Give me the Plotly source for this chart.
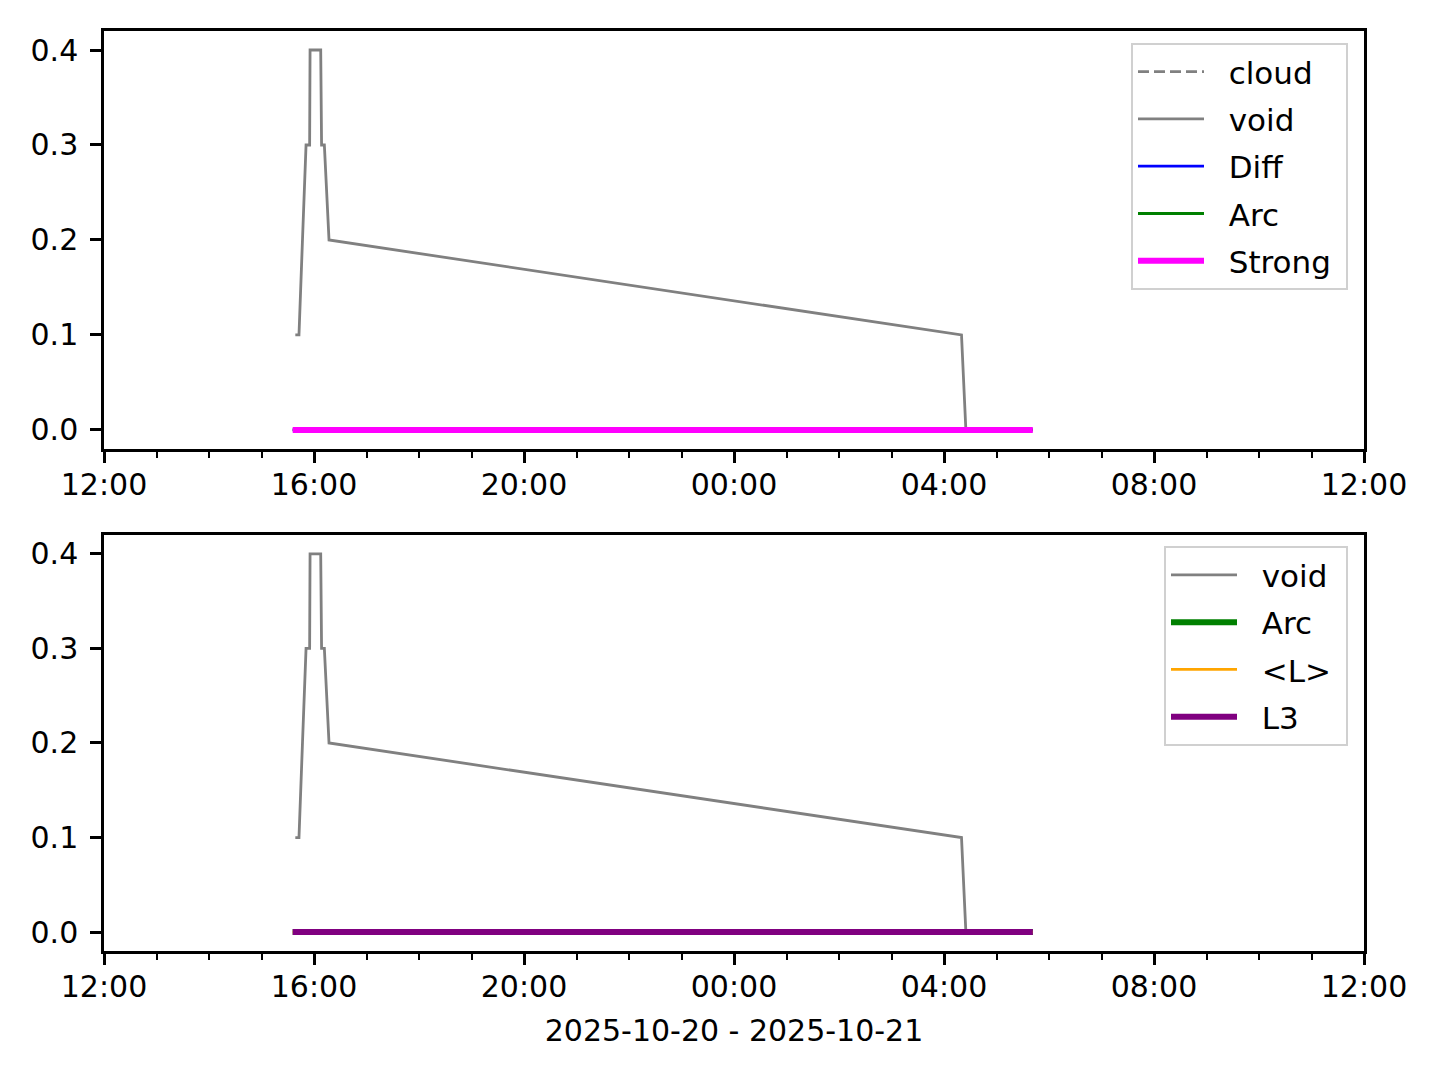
import plotly.graph_objects as go

# ---- data ----
void_times = [
    "2025-10-20 15:38:40", "2025-10-20 15:42:50", "2025-10-20 15:46:50",
    "2025-10-20 15:50:55", "2025-10-20 15:55:00", "2025-10-20 15:55:30",
    "2025-10-20 16:07:40", "2025-10-20 16:08:40", "2025-10-20 16:11:50",
    "2025-10-20 16:17:10", "2025-10-21 04:20:00", "2025-10-21 04:25:00",
]
void_values = [0.1, 0.1, 0.2, 0.3, 0.3, 0.4, 0.4, 0.3, 0.3, 0.2, 0.1, 0.0]

flat_times = ["2025-10-20 15:35:40", "2025-10-21 05:41:30"]
cloud_values = [None, None]
diff_values = [0.0, 0.0]
arc_values = [0.0, 0.0]
strong_values = [0.0, 0.0]
avgl_values = [0.0, 0.0]
l3_values = [0.0, 0.0]

x_range = ["2025-10-20 12:00", "2025-10-21 12:00"]
y_ticks = [0.0, 0.1, 0.2, 0.3, 0.4]
x_title = "2025-10-20 - 2025-10-21"

FONT = "DejaVu Sans"
FS = 30
LFS = 31
GAP = "\u00a0\u00a0"
TAIL = "\u00a0"

fig = go.Figure()

top = [
    ("cloud", flat_times, cloud_values, "gray", 2.8, "11px,5px"),
    ("void", void_times, void_values, "gray", 2.8, "solid"),
    ("Diff", flat_times, diff_values, "blue", 2.8, "solid"),
    ("Arc", flat_times, arc_values, "green", 2.8, "solid"),
    ("Strong", flat_times, strong_values, "magenta", 6, "solid"),
]
for i, (name, xs, ys, c, w, d) in enumerate(top):
    fig.add_trace(go.Scatter(x=xs, y=ys, name=GAP + name + TAIL, mode="lines",
                             line=dict(color=c, width=w, dash=d),
                             xaxis="x", yaxis="y", legend="legend",
                             legendgroup="t%d" % i))

bottom = [
    ("void", void_times, void_values, "gray", 2.8),
    ("Arc", flat_times, arc_values, "green", 6),
    ("<L>", flat_times, avgl_values, "orange", 2.8),
    ("L3", flat_times, l3_values, "purple", 6),
]
for i, (name, xs, ys, c, w) in enumerate(bottom):
    fig.add_trace(go.Scatter(x=xs, y=ys, name=GAP + name + TAIL, mode="lines",
                             line=dict(color=c, width=w),
                             xaxis="x2", yaxis="y2", legend="legend2",
                             legendgroup="b%d" % i))

def xaxis(domain_anchor, title=None):
    d = dict(
        anchor=domain_anchor, domain=[0, 1], range=x_range, type="date",
        tickformat="%H:%M", dtick=4 * 3600000, tick0="2025-10-20 12:00",
        showline=True, mirror=True, linecolor="black", linewidth=2.5,
        ticks="outside", ticklen=11, tickwidth=2.5, tickcolor="black",
        showgrid=False, zeroline=False, ticklabelstandoff=-4,
        tickfont=dict(family=FONT, size=FS, color="black"),
        minor=dict(dtick=3600000, ticks="outside", ticklen=6, tickwidth=2,
                   tickcolor="black", showgrid=False),
    )
    if title:
        d["title"] = dict(text=title, font=dict(family=FONT, size=FS, color="black"), standoff=18)
    return d

def yaxis(domain, anchor):
    return dict(
        anchor=anchor, domain=domain, range=[-0.02, 0.42],
        tickvals=y_ticks, tickformat=".1f",
        showline=True, mirror=True, linecolor="black", linewidth=2.5,
        ticks="outside", ticklen=11, tickwidth=2.5, tickcolor="black",
        showgrid=False, zeroline=False, ticklabelstandoff=6,
        tickfont=dict(family=FONT, size=FS, color="black"),
    )

legend_common = dict(
    xanchor="right", yanchor="top", bgcolor="white",
    bordercolor="#d0d0d0", borderwidth=2, traceorder="grouped",
    tracegroupgap=4, itemwidth=66,
    font=dict(family=FONT, size=LFS, color="black"),
)

fig.update_layout(
    width=1424, height=1064,
    margin=dict(l=96, r=68, t=23, b=121),
    paper_bgcolor="white", plot_bgcolor="white",
    xaxis=xaxis("y"),
    yaxis=yaxis([0.5457, 1.0], "x"),
    xaxis2=xaxis("y2", x_title),
    yaxis2=yaxis([0.0, 0.4522], "x2"),
    legend=dict(x=0.9873, y=0.9870, **legend_common),
    legend2=dict(x=0.9873, y=0.440, **legend_common),
    showlegend=True,
)

fig.write_html("out.html")
